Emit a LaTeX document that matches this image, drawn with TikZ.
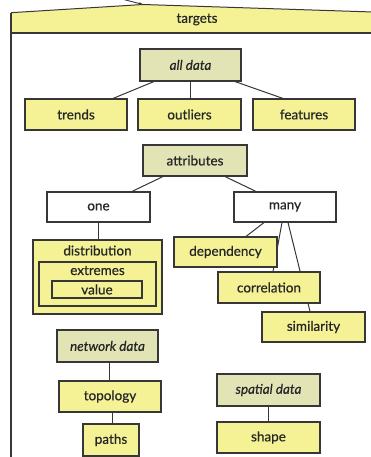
\documentclass[tikz,border=0pt]{standalone}
\usepackage{fontspec}
\setmainfont{Lato}
\newfontfamily\boxfont{Lato}[FakeBold=0.6]
\usetikzlibrary{calc,arrows.meta}
\pgfdeclarelayer{bg}
\pgfsetlayers{bg,main}
\definecolor{boxyellow}{RGB}{245,242,150}
\definecolor{boxolive}{RGB}{227,228,182}
\definecolor{edgegray}{RGB}{55,55,55}
\tikzset{
  basebox/.style={draw=edgegray, line width=1.1pt, inner sep=0pt, font=\boxfont\fontsize{13.5}{15}\selectfont, text=black!85},
  ybox/.style={basebox, fill=boxyellow},
  obox/.style={basebox, fill=boxolive},
  wbox/.style={basebox, fill=white},
  conn/.style={draw=edgegray, line width=1pt},
  lbl/.style={inner sep=0pt, font=\boxfont\fontsize{13.5}{15}\selectfont, text=black!85},
}
\begin{document}
\begin{tikzpicture}[x=1pt,y=-1pt]
\useasboundingbox (0,0) rectangle (371,457);
% header
\coordinate (hl) at (11,12.7);
\coordinate (hp) at (143,4.5);
\coordinate (hr) at (373,12);
\fill[boxyellow] (hl) -- (hp) -- (hr) -- (373,33) -- (11,33) -- cycle;
\draw[edgegray, line width=1pt] (hl) -- (hp) -- (hr);
\draw[edgegray, line width=1.1pt] (11,33) -- (373,33);
\draw[edgegray, line width=1.1pt] (hl) -- (11,460);
\coordinate (arrstart) at (118,-2);
\draw[edgegray, line width=0.9pt, -{Stealth[length=4pt,width=3pt]}] (arrstart) -- (hp);
\node[lbl] (targets) at (197,19.5) {targets};

% all data
\node[obox, minimum width=101pt, minimum height=32pt] (alldata) at (190.5,65) {\itshape all data};
\node[ybox, minimum width=102pt, minimum height=31pt] (trends) at (76,114.5) {trends};
\node[ybox, minimum width=103pt, minimum height=31pt] (outliers) at (189.5,114.5) {outliers};
\node[ybox, minimum width=102pt, minimum height=31pt] (features) at (304,114.5) {features};

% attributes
\node[obox, minimum width=104pt, minimum height=31pt] (attributes) at (195,160.5) {attributes};
\node[wbox, minimum width=103pt, minimum height=30pt] (one) at (98.5,207) {one};
\node[wbox, minimum width=102pt, minimum height=30pt] (many) at (285,207) {many};

% distribution nest
\node[ybox, minimum width=129pt, minimum height=74pt] (dist) at (97.5,277) {};
\node[lbl] (distlabel) at (97.5,250.5) {distribution};
\node[basebox, fill=none, minimum width=117pt, minimum height=44pt] (extremes) at (97.5,284) {};
\node[lbl] (extremeslabel) at (97.5,270.5) {extremes};
\node[basebox, fill=none, minimum width=90pt, minimum height=17pt] (value) at (97,289.5) {value};

\node[ybox, minimum width=103pt, minimum height=30pt] (dependency) at (225.5,252) {dependency};
\node[ybox, minimum width=102pt, minimum height=31pt] (correlation) at (269,287.5) {correlation};
\node[ybox, minimum width=103pt, minimum height=30pt] (similarity) at (313.5,327) {similarity};

% network
\node[obox, minimum width=101pt, minimum height=32pt] (network) at (107.5,346) {\itshape network data};
\node[ybox, minimum width=102pt, minimum height=31pt] (topology) at (110,396.5) {topology};
\node[ybox, minimum width=56pt, minimum height=32pt] (paths) at (111,440) {paths};

% spatial
\node[obox, minimum width=103pt, minimum height=32pt] (spatial) at (268.5,390) {\itshape spatial data};
\node[ybox, minimum width=103pt, minimum height=31pt] (shape) at (268.5,437.5) {shape};

\begin{pgfonlayer}{bg}
\draw[conn] ([xshift=-36.5pt]alldata.south) -- ([xshift=37pt]trends.north);
\draw[conn] (alldata.south) -- (alldata.south |- outliers.north);
\draw[conn] ([xshift=44.5pt]alldata.south) -- ([xshift=-21pt]features.north);
\draw[conn] ([xshift=-32pt]attributes.south) -- ([xshift=33.5pt]one.south |- one.north);
\draw[conn] ([xshift=30pt]attributes.south) -- ([xshift=-29pt]many.north);
\draw[conn] (one.south) -- (one.south |- dist.north);
\draw[conn] ([xshift=-21pt]many.south) -- ([xshift=20.5pt]dependency.north);
\draw[conn] ([xshift=-3pt]many.south) -- ([xshift=4pt]correlation.north);
\draw[conn] ([xshift=3pt]many.south) -- ([xshift=-3.5pt]similarity.north);
\draw[conn] ([xshift=1.5pt]network.south) -- ([xshift=1.5pt]network.south |- topology.north);
\draw[conn] ([xshift=2pt]topology.south) -- ([xshift=2pt]topology.south |- paths.north);
\draw[conn] (spatial.south) -- (shape.north);
\end{pgfonlayer}
\end{tikzpicture}
\end{document}
